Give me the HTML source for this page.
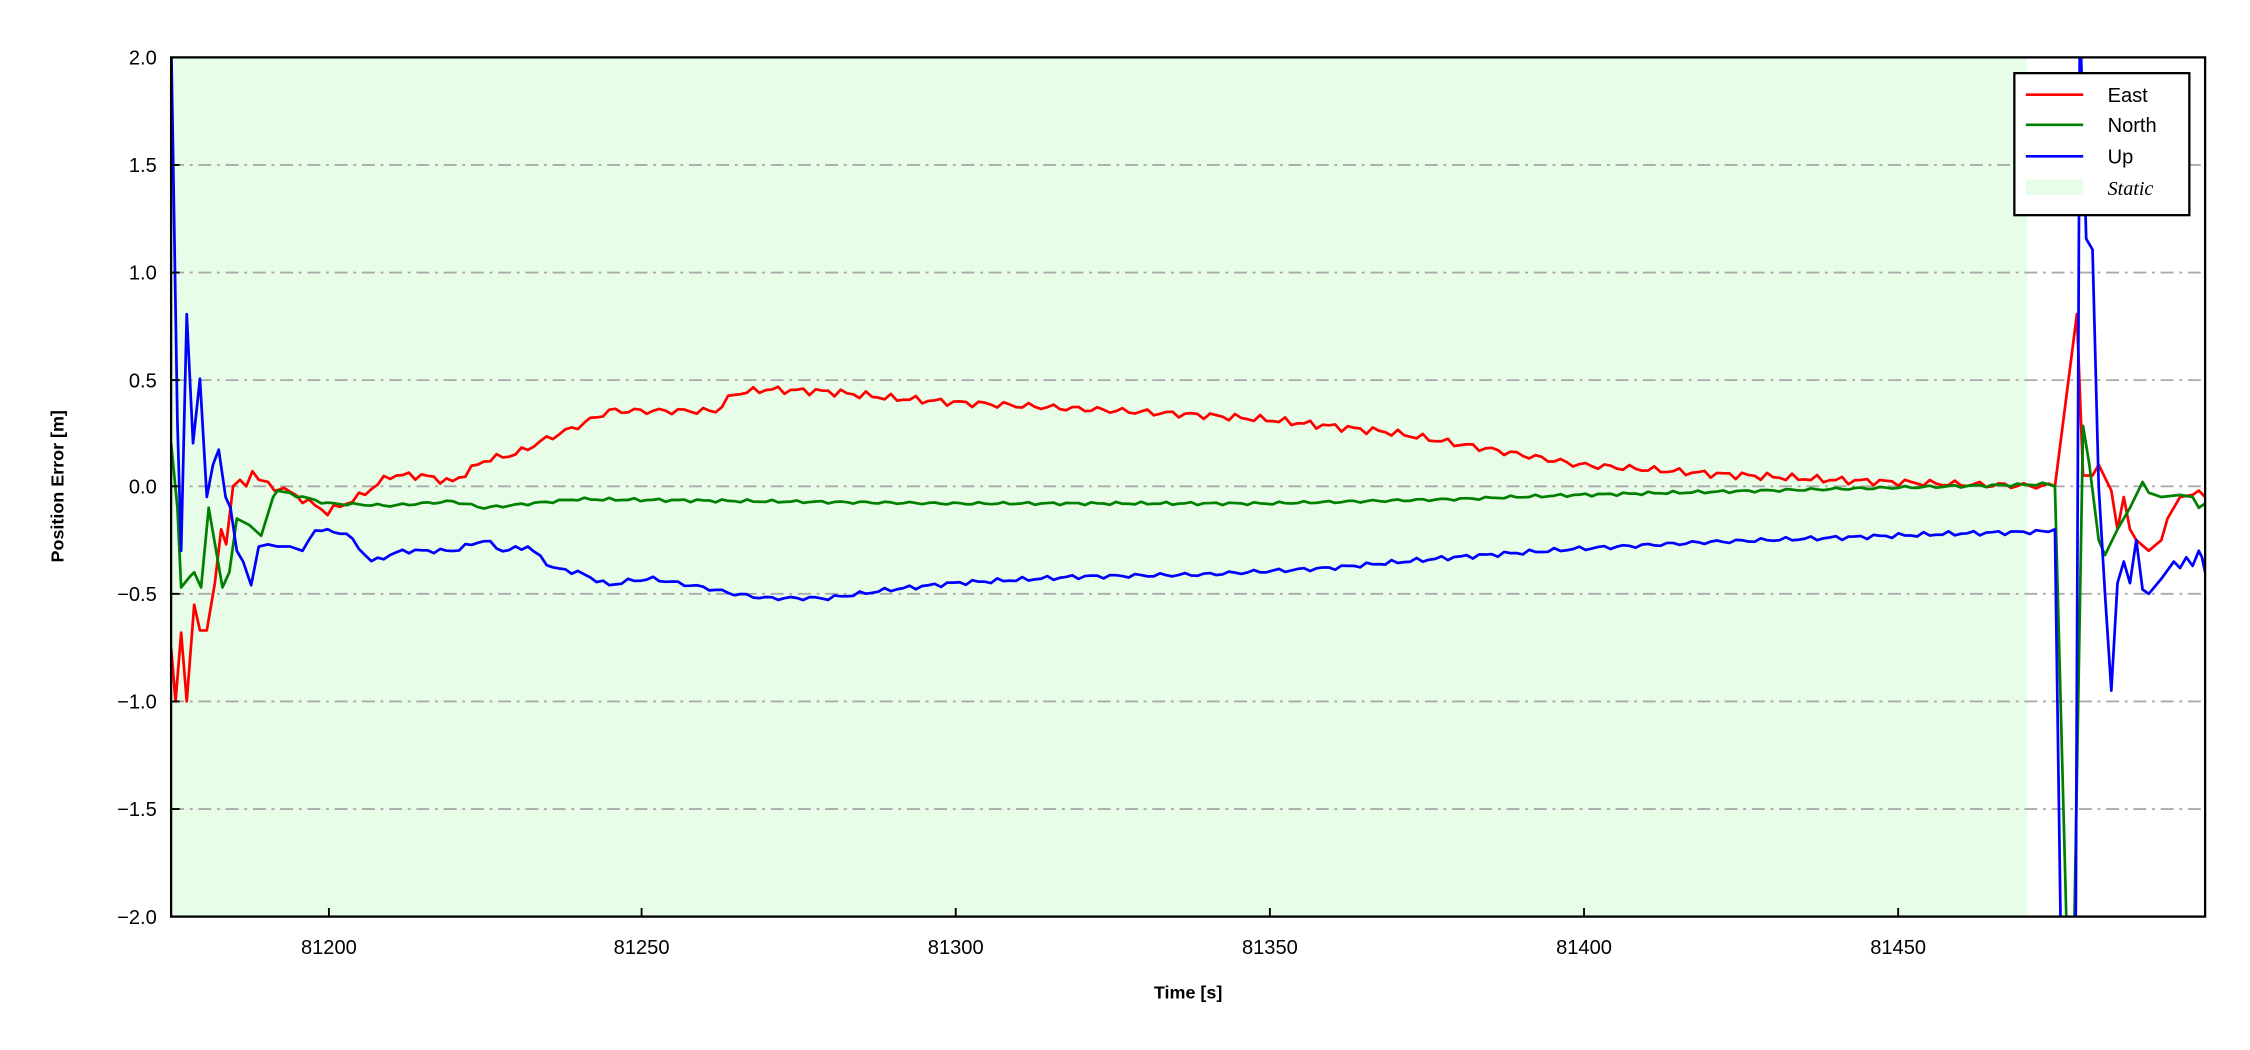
<!DOCTYPE html>
<html><head><meta charset="utf-8"><style>
html,body{margin:0;padding:0;background:#fff;}
svg{display:block;}
text{font-family:"Liberation Sans",Arial,sans-serif;fill:#000;}
</style></head><body>
<svg id="s" width="2250" height="1050" viewBox="0 0 1568 732" xmlns="http://www.w3.org/2000/svg">
<defs><clipPath id="c"><rect x="119" y="40" width="1418" height="599"/></clipPath></defs>
<rect x="0" y="0" width="1568" height="732" fill="#fff"/>
<rect x="119" y="40" width="1294" height="599" fill="#e8fde8"/>
<g stroke="#aaaaaa" stroke-width="1.3" stroke-dasharray="9,4,2,4">
<line x1="119" x2="1537" y1="115" y2="115"/><line x1="119" x2="1537" y1="190" y2="190"/>
<line x1="119" x2="1537" y1="265" y2="265"/><line x1="119" x2="1537" y1="339" y2="339"/>
<line x1="119" x2="1537" y1="414" y2="414"/><line x1="119" x2="1537" y1="489" y2="489"/>
<line x1="119" x2="1537" y1="564" y2="564"/>
</g>
<g id="series" clip-path="url(#c)" fill="none" stroke-width="1.9" stroke-linejoin="round"></g>
<rect x="119" y="40" width="1418" height="599" fill="none" stroke="#000" stroke-width="1.6"/>
<g stroke="#000" stroke-width="1.3">
<line x1="119" x2="125" y1="115" y2="115"/><line x1="119" x2="125" y1="190" y2="190"/>
<line x1="119" x2="125" y1="265" y2="265"/><line x1="119" x2="125" y1="339" y2="339"/>
<line x1="119" x2="125" y1="414" y2="414"/><line x1="119" x2="125" y1="489" y2="489"/>
<line x1="119" x2="125" y1="564" y2="564"/>
<line x1="229" x2="229" y1="633" y2="639"/><line x1="447" x2="447" y1="633" y2="639"/>
<line x1="666" x2="666" y1="633" y2="639"/><line x1="885" x2="885" y1="633" y2="639"/>
<line x1="1104" x2="1104" y1="633" y2="639"/><line x1="1323" x2="1323" y1="633" y2="639"/>
</g>
<g font-size="14" text-anchor="end">
<text x="109" y="45">2.0</text><text x="109" y="120">1.5</text><text x="109" y="195">1.0</text>
<text x="109" y="270">0.5</text><text x="109" y="344">0.0</text><text x="109" y="419">−0.5</text>
<text x="109" y="494">−1.0</text><text x="109" y="569">−1.5</text><text x="109" y="644">−2.0</text>
</g>
<g font-size="14" text-anchor="middle">
<text x="229" y="665">81200</text><text x="447" y="665">81250</text><text x="666" y="665">81300</text>
<text x="885" y="665">81350</text><text x="1104" y="665">81400</text><text x="1323" y="665">81450</text>
</g>
<text x="828" y="696" font-size="12.5" font-weight="bold" text-anchor="middle">Time [s]</text>
<text transform="translate(44,339) rotate(-90)" font-size="12.5" font-weight="bold" text-anchor="middle">Position Error [m]</text>
<rect x="1404" y="51" width="122" height="99" fill="#fff" stroke="#000" stroke-width="1.6"/>
<line x1="1412" x2="1452" y1="66" y2="66" stroke="#ff0000" stroke-width="1.8"/>
<line x1="1412" x2="1452" y1="87" y2="87" stroke="#008000" stroke-width="1.8"/>
<line x1="1412" x2="1452" y1="109" y2="109" stroke="#0000ff" stroke-width="1.8"/>
<rect x="1412" y="125" width="40" height="11" fill="#e8fde8"/>
<g font-size="14"><text x="1469" y="71">East</text><text x="1469" y="92">North</text><text x="1469" y="114">Up</text></g>
<text x="1469" y="136" font-size="14" font-style="italic" style="font-family:'Liberation Serif',serif">Static</text>
</svg>
<script>
var X=function(t){return 119+(t-81175)*1418/325;};
var Y=function(v){return 339-v*150;};
function interp(k,t){for(var i=0;i<k.length-1;i++){if(t<=k[i+1][0]){var a=k[i],b=k[i+1];var f=(t-a[0])/(b[0]-a[0]||1);return a[1]+f*(b[1]-a[1]);}}return k[k.length-1][1];}
function build(k,noise,seed,start,end,head,tail){var pts=[];head.forEach(function(p){pts.push(X(p[0]).toFixed(1)+','+Y(p[1]).toFixed(1));});
for(var t=start;t<=end;t+=1){var n=noise*(Math.sin(t*1.7+seed)*0.6+Math.sin(t*3.1+seed*2)*0.4);pts.push(X(t).toFixed(1)+','+Y(interp(k,t)+n).toFixed(1));}
tail.forEach(function(p){pts.push(X(p[0]).toFixed(1)+','+Y(p[1]).toFixed(1));});return pts.join(' ');}
var east=[[81192,0.0],[81200,-0.12],[81205,-0.05],[81210,0.05],[81215,0.05],[81220,0.02],[81225,0.12],[81230,0.15],[81235,0.22],[81240,0.28],[81245,0.35],[81255,0.35],[81262,0.35],[81265,0.43],[81270,0.45],[81280,0.44],[81290,0.41],[81300,0.39],[81320,0.36],[81340,0.33],[81350,0.31],[81360,0.28],[81370,0.25],[81380,0.2],[81390,0.15],[81400,0.1],[81420,0.06],[81440,0.03],[81460,0.01],[81475,0.0]];
var north=[[81192,-0.02],[81200,-0.08],[81210,-0.09],[81220,-0.07],[81225,-0.1],[81240,-0.06],[81270,-0.07],[81300,-0.08],[81350,-0.08],[81380,-0.06],[81400,-0.04],[81430,-0.02],[81475,0.01]];
var up=[[81198,-0.2],[81203,-0.22],[81207,-0.35],[81212,-0.3],[81220,-0.3],[81225,-0.25],[81228,-0.3],[81232,-0.28],[81236,-0.38],[81240,-0.4],[81245,-0.46],[81248,-0.44],[81252,-0.43],[81260,-0.47],[81265,-0.5],[81270,-0.52],[81280,-0.52],[81290,-0.48],[81300,-0.45],[81320,-0.42],[81340,-0.41],[81360,-0.38],[81380,-0.33],[81400,-0.29],[81420,-0.26],[81440,-0.24],[81460,-0.22],[81475,-0.21]];
var g=document.getElementById('series');
function add(p,c){var e=document.createElementNS('http://www.w3.org/2000/svg','polyline');e.setAttribute('points',p);e.setAttribute('stroke',c);g.appendChild(e);}
add(build(east,0.02,1,81192,81475,
 [[81175,-0.75],[81175.7,-1.0],[81176.6,-0.68],[81177.5,-1.0],[81178.7,-0.55],[81179.6,-0.67],[81180.7,-0.67],[81182,-0.45],[81183,-0.2],[81183.8,-0.27],[81184.9,0.0],[81186,0.03],[81187,0.0],[81188,0.07],[81189,0.03],[81190.5,0.02],[81191.5,-0.02]],
 [[81476,0.0],[81479.5,0.8],[81480.5,0.05],[81482,0.05],[81483,0.1],[81485,-0.02],[81486,-0.2],[81487,-0.05],[81488,-0.2],[81489,-0.25],[81491,-0.3],[81493,-0.25],[81494,-0.15],[81496,-0.05],[81498,-0.04],[81499,-0.02],[81500,-0.05]]),'#ff0000');
add(build(north,0.008,2,81192,81475,
 [[81175,0.2],[81176,-0.1],[81176.6,-0.47],[81178,-0.42],[81178.7,-0.4],[81179.8,-0.47],[81181,-0.1],[81183.2,-0.47],[81184.3,-0.4],[81185.5,-0.15],[81187.5,-0.18],[81189.4,-0.23],[81191.3,-0.05]],
 [[81476,0.0],[81478,-2.2],[81479,-2.2],[81480.5,0.28],[81481.5,0.1],[81483,-0.25],[81484,-0.32],[81486,-0.2],[81488,-0.1],[81490,0.02],[81491,-0.03],[81493,-0.05],[81496,-0.04],[81498,-0.05],[81499,-0.1],[81500,-0.08]]),'#008000');
add(build(up,0.012,3,81198,81475,
 [[81175,2.1],[81176,0.3],[81176.6,-0.3],[81177.5,0.8],[81178.5,0.2],[81179.6,0.5],[81180.7,-0.05],[81181.7,0.1],[81182.6,0.17],[81183.7,-0.05],[81184.5,-0.1],[81185.5,-0.3],[81186.5,-0.35],[81187.8,-0.46],[81189,-0.28],[81190.5,-0.27],[81192,-0.28],[81194,-0.28],[81196,-0.3],[81197,-0.25]],
 [[81476,-0.2],[81477,-2.2],[81479.3,-2.2],[81480,2.2],[81481,1.15],[81482,1.1],[81483,0.0],[81484,-0.5],[81485,-0.95],[81486,-0.45],[81487,-0.35],[81488,-0.45],[81489,-0.25],[81490,-0.48],[81491,-0.5],[81493,-0.43],[81495,-0.35],[81496,-0.38],[81497,-0.33],[81498,-0.37],[81499,-0.3],[81499.5,-0.33],[81500,-0.4]]),'#0000ff');
</script>
</body></html>
